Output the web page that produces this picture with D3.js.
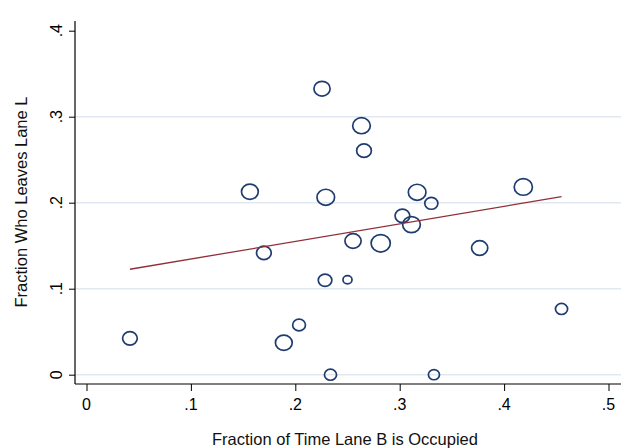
<!DOCTYPE html>
<html>
<head>
<meta charset="utf-8">
<script src="https://cdn.jsdelivr.net/npm/d3@7"></script>
<style>
  body { margin: 0; background: #fff; }
  text { font-family: "Liberation Sans", Arial, sans-serif; fill: #000; }
</style>
</head>
<body>
<div id="chart"></div>
<script>
// values
const occupied = [0.0416, 0.1565, 0.1699, 0.189, 0.2036, 0.2256, 0.2285, 0.2292, 0.2337, 0.25, 0.2553,
                  0.2634, 0.2658, 0.2818, 0.3026, 0.3113, 0.3167, 0.3303, 0.3328, 0.3766, 0.4184, 0.455];
const leaves   = [0.0423, 0.2128, 0.1417, 0.0372, 0.0578, 0.3326, 0.1098, 0.2063, 0.0, 0.1105, 0.1555,
                  0.2895, 0.2605, 0.1528, 0.1848, 0.1745, 0.2121, 0.1993, 0.0, 0.1473, 0.2183, 0.0764];
const weight   = [53, 69, 53, 69, 40, 64, 45, 76, 36, 20, 64,
                  76, 53, 90, 53, 76, 76, 42, 30, 64, 81, 36];
const fitX = [0.0416, 0.455];
const fitY = [0.1226, 0.207];
const xTicks = [0, 0.1, 0.2, 0.3, 0.4, 0.5];
const yTicks = [0, 0.1, 0.2, 0.3, 0.4];
const gridTicks = [0, 0.1, 0.2, 0.3];

const width = 621, height = 448;
const fmt = d => d === 0 ? "0" : d3.format(".1f")(d).replace(/^0/, "");

const svg = d3.select("#chart").append("svg")
    .attr("width", width)
    .attr("height", height);

const x = d3.scaleLinear().domain([0, 0.5]).range([86.5, 608.5]);
const y = d3.scaleLinear().domain([0, 0.4]).range([374.7, 30.7]);
const r = d3.scaleSqrt().domain([0, 90]).range([0, 9.6]);

const axisX = 75, axisY = 384;

// gridlines
svg.append("g").selectAll("line")
    .data(gridTicks)
    .enter().append("line")
    .attr("x1", axisX).attr("x2", width)
    .attr("y1", d => y(d)).attr("y2", d => y(d))
    .attr("stroke", "#e2e8f2")
    .attr("stroke-width", 1.6);

// y axis
const gy = svg.append("g").attr("transform", `translate(${axisX},0)`)
    .call(d3.axisLeft(y).tickValues(yTicks).tickSize(6).tickFormat(""));
gy.select(".domain").remove();
gy.selectAll(".tick line").attr("stroke", "#000");
svg.append("line")
    .attr("x1", axisX).attr("x2", axisX)
    .attr("y1", 21).attr("y2", axisY)
    .attr("stroke", "#000").attr("stroke-width", 1.2);

svg.append("g").selectAll("text")
    .data(yTicks)
    .enter().append("text")
    .attr("transform", d => `translate(61.5,${y(d)}) rotate(-90)`)
    .attr("text-anchor", "middle")
    .style("font-size", "16px")
    .text(fmt);

// x axis
const gx = svg.append("g").attr("transform", `translate(0,${axisY})`)
    .call(d3.axisBottom(x).tickValues(xTicks).tickSize(7).tickFormat(""));
gx.select(".domain").remove();
gx.selectAll(".tick line").attr("stroke", "#000");
svg.append("line")
    .attr("x1", axisX).attr("x2", width)
    .attr("y1", axisY).attr("y2", axisY)
    .attr("stroke", "#000").attr("stroke-width", 1.2);

svg.append("g").selectAll("text")
    .data(xTicks)
    .enter().append("text")
    .attr("x", d => x(d))
    .attr("y", 410)
    .attr("text-anchor", "middle")
    .style("font-size", "16px")
    .text(fmt);

// axis titles
svg.append("text")
    .attr("x", 345).attr("y", 445)
    .attr("text-anchor", "middle")
    .style("font-size", "16.5px")
    .style("fill", "#111")
    .text("Fraction of Time Lane B is Occupied");

svg.append("text")
    .attr("transform", "translate(27,202) rotate(-90)")
    .attr("text-anchor", "middle")
    .style("font-size", "16.5px")
    .style("fill", "#111")
    .text("Fraction Who Leaves Lane L");

// weighted scatter
svg.append("g").selectAll("ellipse")
    .data(occupied.map((d, i) => ({x: d, y: leaves[i], w: weight[i]})))
    .enter().append("ellipse")
    .attr("cx", d => x(d.x))
    .attr("cy", d => y(d.y))
    .attr("rx", d => r(d.w))
    .attr("ry", d => r(d.w) * 0.91)
    .attr("fill", "none")
    .attr("stroke", "#1f3c70")
    .attr("stroke-width", 1.7);

// fitted line
svg.append("path")
    .datum(fitX.map((d, i) => [d, fitY[i]]))
    .attr("d", d3.line().x(d => x(d[0])).y(d => y(d[1])))
    .attr("fill", "none")
    .attr("stroke", "#902f38")
    .attr("stroke-width", 1.3);
</script>
</body>
</html>
